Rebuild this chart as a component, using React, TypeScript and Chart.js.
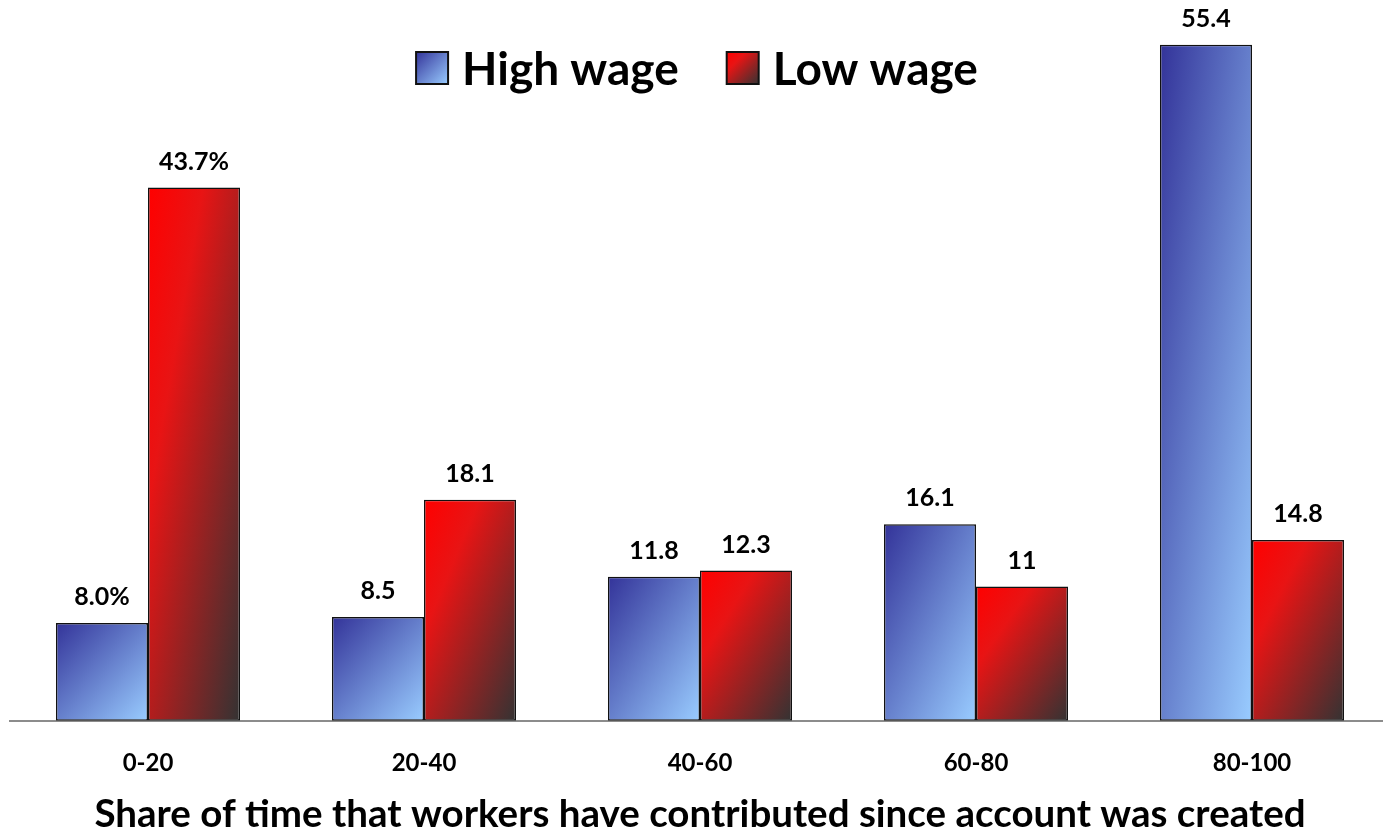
import React, { useEffect, useRef } from "react";
import { Chart, registerables } from "chart.js";

Chart.register(...registerables);

const categories = ["0-20", "20-40", "40-60", "60-80", "80-100"];
const highWage = [8.0, 8.5, 11.8, 16.1, 55.4];
const lowWage = [43.7, 18.1, 12.3, 11, 14.8];
const highLabels = ["8.0%", "8.5", "11.8", "16.1", "55.4"];
const lowLabels = ["43.7%", "18.1", "12.3", "11", "14.8"];
const seriesNames = ["High wage", "Low wage"];
const xTitle = "Share of time that workers have contributed since account was created";

const FONT = "Lato, 'Open Sans', sans-serif";
const CAT_PCT = 0.667;

const blueStops: [number, string][] = [
  [0, "#333399"],
  [1, "#99ccff"],
];
const redStops: [number, string][] = [
  [0, "#ff0000"],
  [0.3, "#e81414"],
  [1, "#333333"],
];

function diagGradient(c: CanvasRenderingContext2D, x0: number, y0: number, x1: number, y1: number, stops: [number, string][]) {
  const w = Math.max(1, x1 - x0);
  const h = Math.max(1, y1 - y0);
  const t = (2 * w * h) / (w * w + h * h);
  const g = c.createLinearGradient(x0, y0, x0 + h * t, y0 + w * t);
  stops.forEach(([o, col]) => g.addColorStop(o, col));
  return g;
}

function barFill(stops: [number, string][]) {
  return (ctx: any) => {
    const chart = ctx.chart;
    const xs = chart.scales.x;
    const ys = chart.scales.y;
    const area = chart.chartArea;
    if (!xs || !ys || !area) return stops[0][1];
    const n = categories.length;
    const catW = (area.right - area.left) / n;
    const barW = (catW * CAT_PCT) / 2;
    const cx = xs.getPixelForValue(ctx.dataIndex);
    const left = cx - barW + ctx.datasetIndex * barW;
    const v = ctx.raw as number;
    const top = ys.getPixelForValue(v);
    const base = ys.getPixelForValue(0);
    return diagGradient(chart.ctx, left, top, left + barW, base, stops);
  };
}

const labelPlugin = {
  id: "barLabels",
  afterDatasetsDraw(chart: any) {
    const c = chart.ctx as CanvasRenderingContext2D;
    const texts = [highLabels, lowLabels];
    c.save();
    c.font = `bold 25px ${FONT}`;
    c.fillStyle = "#000";
    c.textAlign = "center";
    c.textBaseline = "middle";
    chart.data.datasets.forEach((_d: any, di: number) => {
      const meta = chart.getDatasetMeta(di);
      meta.data.forEach((el: any, i: number) => {
        c.fillText(texts[di][i], el.x, el.y - 26);
      });
    });
    c.restore();
  },
};

const legendPlugin = {
  id: "customLegend",
  afterDraw(chart: any) {
    const c = chart.ctx as CanvasRenderingContext2D;
    c.save();
    c.font = `bold 46px ${FONT}`;
    const box = 32;
    const gapBoxText = 14;
    const gapItems = 48;
    const widths = seriesNames.map((s) => c.measureText(s).width);
    const total = widths.reduce((a, b) => a + b, 0) + 2 * (box + gapBoxText) + gapItems;
    let x = 697 - total / 2;
    const cy = 68;
    const stopsArr = [blueStops, redStops];
    seriesNames.forEach((name, i) => {
      const y0 = cy - box / 2;
      c.fillStyle = diagGradient(c, x, y0, x + box, y0 + box, stopsArr[i]);
      c.fillRect(x, y0, box, box);
      c.lineWidth = 2;
      c.strokeStyle = "#111";
      c.strokeRect(x, y0, box, box);
      x += box + gapBoxText;
      c.fillStyle = "#000";
      c.textAlign = "left";
      c.textBaseline = "middle";
      c.fillText(name, x, cy + 2);
      x += widths[i] + gapItems;
    });
    c.restore();
  },
};

export default function App() {
  const ref = useRef<HTMLCanvasElement | null>(null);
  useEffect(() => {
    if (!ref.current) return;
    const chart = new Chart(ref.current, {
      type: "bar",
      data: {
        labels: categories,
        datasets: [
          {
            label: seriesNames[0],
            data: highWage,
            backgroundColor: barFill(blueStops),
            borderColor: "#111",
            borderWidth: 1.5,
            borderSkipped: false,
          },
          {
            label: seriesNames[1],
            data: lowWage,
            backgroundColor: barFill(redStops),
            borderColor: "#111",
            borderWidth: 1.5,
            borderSkipped: false,
          },
        ],
      },
      options: {
        animation: false,
        responsive: false,
        devicePixelRatio: 1,
        layout: { padding: { top: 13, left: 10, right: 2, bottom: 0 } },
        datasets: { bar: { categoryPercentage: CAT_PCT, barPercentage: 1 } },
        plugins: {
          legend: { display: false },
          tooltip: { enabled: false },
        },
        scales: {
          x: {
            grid: { display: false, drawTicks: false },
            border: { display: true, color: "#8c8c8c", width: 2 },
            ticks: {
              color: "#000",
              padding: 28,
              font: { family: FONT, size: 24, weight: "bold" },
            },
            title: {
              display: true,
              text: xTitle,
              color: "#000",
              padding: { top: -10, bottom: -4 },
              font: { family: FONT, size: 38.5, weight: "bold", lineHeight: 1 },
            },
          },
          y: {
            display: false,
            min: 0,
            max: 58,
          },
        },
      },
      plugins: [labelPlugin, legendPlugin],
    });
    return () => chart.destroy();
  }, []);
  return (
    <div style={{ position: "fixed", left: 0, top: 0, width: 1383, height: 830, overflow: "hidden", background: "#fff" }}>
      <canvas ref={ref} width={1392} height={830} style={{ display: "block", width: 1392, height: 830 }} />
    </div>
  );
}
